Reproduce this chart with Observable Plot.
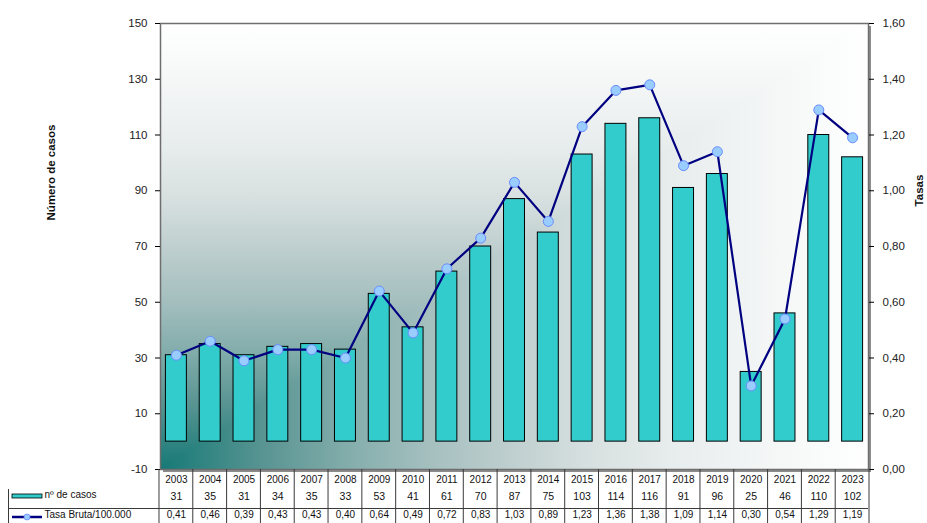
<!DOCTYPE html>
<html><head><meta charset="utf-8">
<script src="https://cdn.jsdelivr.net/npm/d3@7"></script>
<script src="https://cdn.jsdelivr.net/npm/@observablehq/plot@0.6"></script>
<style>
html,body{margin:0;padding:0;background:#fff;}
#chart{width:927px;height:523px;overflow:hidden;}
</style>
</head><body><div id="chart"></div>
<script>
// ---- data ----
const years = ["2003","2004","2005","2006","2007","2008","2009","2010","2011","2012","2013","2014","2015","2016","2017","2018","2019","2020","2021","2022","2023"];
const cases = [31,35,31,34,35,33,53,41,61,70,87,75,103,114,116,91,96,25,46,110,102];
const rates = [0.41,0.46,0.39,0.43,0.43,0.40,0.64,0.49,0.72,0.83,1.03,0.89,1.23,1.36,1.38,1.09,1.14,0.30,0.54,1.29,1.19];
const leftTicks = [-10,10,30,50,70,90,110,130,150];
const rightTicks = [0,0.2,0.4,0.6,0.8,1.0,1.2,1.4,1.6];
const leftTitle = "Número de casos";
const rightTitle = "Tasas";
const rowLabels = ["nº de casos","Tasa Bruta/100.000"];

// secondary axis mapping: rate 0 -> -10, rate 1.6 -> 150
const yMin = -10, yMax = 150, rMax = 1.6;
const toY = r => yMin + r * (yMax - yMin) / rMax;
const fromY = v => (v - yMin) * rMax / (yMax - yMin);
const fmt = v => v.toFixed(2).replace(".", ",");

const data = years.map((y, i) => ({year: y, cases: cases[i], rate: rates[i], ry: toY(rates[i])}));

const FONT = "'Liberation Sans', Arial, sans-serif";
const BAR = "#33cccc", LINE = "#000080", DOT = "#99ccff";
const gradStops = [[0, "#177976"], [0.03, "#237f7c"], [0.15, "#5a9593"], [0.27, "#84aeac"], [0.38, "#a5bfbf"], [0.5, "#c0cfcf"], [0.6, "#d6dfdf"], [0.72, "#e7ecec"], [0.87, "#f5f7f7"], [1, "#ffffff"]];

// background: "from corner" gradient (bottom-left dark) + shadow
const background = (index, scales, values, dims) => {
  const {width, height, marginLeft: ml, marginRight: mr, marginTop: mt, marginBottom: mb} = dims;
  const w = width - ml - mr, h = height - mt - mb;
  const x0 = ml, x1 = ml + w, y0 = mt, y1 = mt + h;
  const g = d3.create("svg:g");
  const defs = g.append("defs");
  const gv = defs.append("linearGradient").attr("id", "bgV").attr("gradientUnits", "userSpaceOnUse")
    .attr("x1", x0).attr("y1", y1).attr("x2", x0).attr("y2", y0);
  const gh = defs.append("linearGradient").attr("id", "bgH").attr("gradientUnits", "userSpaceOnUse")
    .attr("x1", x0).attr("y1", y1).attr("x2", x1).attr("y2", y1);
  gradStops.forEach(([o, c]) => {
    gv.append("stop").attr("offset", o).attr("stop-color", c);
    gh.append("stop").attr("offset", o).attr("stop-color", c);
  });
  g.append("rect").attr("x", x0 + 3).attr("y", y0 + 3).attr("width", w).attr("height", h).attr("fill", "#8c8c8c");
  // full rect: horizontal gradient; upper-left triangle on top: vertical gradient
  g.append("rect").attr("x", x0).attr("y", y0).attr("width", w).attr("height", h).attr("fill", "url(#bgH)");
  g.append("polygon").attr("points", `${x0},${y1} ${x0},${y0} ${x1},${y0}`).attr("fill", "url(#bgV)");
  return g.node();
};

// data table grid + legend keys
const tableGrid = (index, scales, values, dims) => {
  const {width, height, marginLeft: ml, marginRight: mr, marginTop: mt, marginBottom: mb} = dims;
  const x = scales.x;
  const n = years.length;
  const step = (typeof x.step === "function") ? x.step() : (width - ml - mr) / n;
  const bw = (typeof x.bandwidth === "function") ? x.bandwidth() : 0;
  const yb = height - mb;
  const g = d3.create("svg:g").attr("stroke", "#3a3a3a").attr("stroke-width", 1).attr("fill", "none");
  const edges = years.map(y => x(y) + bw / 2 - step / 2);
  edges.push(edges[n - 1] + step);
  edges.forEach(e => g.append("line").attr("x1", e).attr("x2", e).attr("y1", yb).attr("y2", height));
  g.append("line").attr("x1", 8).attr("x2", width - mr).attr("y1", yb + 39.5).attr("y2", yb + 39.5);
  g.append("line").attr("x1", 8.5).attr("x2", 8.5).attr("y1", yb + 20).attr("y2", height);
  // legend keys
  g.append("rect").attr("x", 12).attr("y", yb + 25).attr("width", 30).attr("height", 4)
    .attr("fill", BAR).attr("stroke", "#000").attr("stroke-width", 0.8);
  g.append("line").attr("x1", 12).attr("x2", 42).attr("y1", yb + 48).attr("y2", yb + 48)
    .attr("stroke", LINE).attr("stroke-width", 2.5);
  g.append("circle").attr("cx", 27).attr("cy", yb + 48).attr("r", 3)
    .attr("fill", DOT).attr("stroke", "#6a8cff").attr("stroke-width", 0.8);
  return g.node();
};

const chart = Plot.plot({
  width: 927,
  height: 523,
  marginLeft: 160,
  marginRight: 59,
  marginTop: 23,
  marginBottom: 54,
  style: {fontFamily: FONT, background: "#fff", overflow: "visible"},
  x: {type: "band", domain: years, paddingInner: 0.38, paddingOuter: 0.16, round: false, axis: null},
  y: {domain: [yMin, yMax], axis: null},
  marks: [
    background,
    Plot.barY(data, {x: "year", y1: 0, y2: "cases", fill: BAR, stroke: "#000", strokeWidth: 1}),
    Plot.line(data, {x: "year", y: "ry", stroke: LINE, strokeWidth: 2.2}),
    Plot.dot(data, {x: "year", y: "ry", r: 5, fill: DOT, stroke: "#6a8cff", strokeWidth: 1}),
    Plot.frame({stroke: "#6e6e6e", strokeWidth: 1.5}),
    Plot.axisY(leftTicks, {anchor: "left", tickSize: 5, tickPadding: 8, fontSize: 11.5, fill: "#222", label: null, tickFormat: d => String(d)}),
    Plot.axisY(rightTicks.map(toY), {anchor: "right", tickSize: 5, tickPadding: 9, fontSize: 11.5, fill: "#222", label: null, tickFormat: d => fmt(fromY(d))}),
    Plot.text([leftTitle], {frameAnchor: "left", textAnchor: "middle", dx: -109, dy: -74, rotate: -90, fontWeight: "bold", fontSize: 11.5, fill: "#111"}),
    Plot.text([rightTitle], {frameAnchor: "right", textAnchor: "middle", dx: 51, dy: -56, rotate: -90, fontWeight: "bold", fontSize: 11.5, fill: "#111"}),
    tableGrid,
    // table text
    Plot.text(data, {x: "year", text: "year", frameAnchor: "bottom", dy: 13, fontSize: 10, fill: "#111"}),
    Plot.text(data, {x: "year", text: d => String(d.cases), frameAnchor: "bottom", dy: 30, fontSize: 10.5, fill: "#111"}),
    Plot.text(data, {x: "year", text: d => fmt(d.rate), frameAnchor: "bottom", dy: 48, fontSize: 10, fill: "#111"}),
    Plot.text([rowLabels[0]], {frameAnchor: "bottom-left", dx: -116, dy: 28, textAnchor: "start", fontSize: 10, fill: "#111"}),
    Plot.text([rowLabels[1]], {frameAnchor: "bottom-left", dx: -116, dy: 48, textAnchor: "start", fontSize: 10, fill: "#111"})
  ]
});
document.getElementById("chart").appendChild(chart);
</script>
</body></html>
